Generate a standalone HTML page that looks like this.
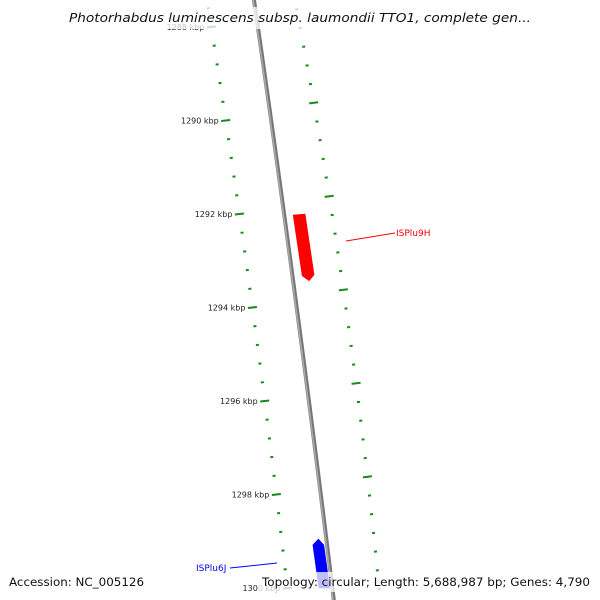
<!DOCTYPE html>
<html><head><meta charset="utf-8"><style>
html,body{margin:0;padding:0;background:#fff;}
svg{display:block;font-family:"DejaVu Sans","Liberation Sans",sans-serif;}
</style></head><body>
<svg id="c" width="600" height="600" viewBox="0 0 600 600"></svg>
<script>
const majorKbp = [1288,1290,1292,1294,1296,1298,1300];
const minorStepKbp = 0.4;
const innerMajorKbp = [1289.6,1291.6,1293.6,1295.6,1297.6];
const featureNames = ["ISPlu9H","ISPlu6J"];
const featureStart = [1292.0,1298.95];
const featureEnd = [1293.43,1300.0];
const featureColors = ["#ff0000","#0000ff"];
const featureStrand = [1,-1];

const NS="http://www.w3.org/2000/svg";
const svg=document.getElementById('c');
function yOf(k){return 27+(k-1288)*46.75;}
function leftX(y){return 207+0.16*y-0.00004*y*y;}
function backX(y){return 254+0.145*y-0.00002*y*y;}
function rightX(y){return 295+0.19*y-0.00008*y*y;}
function mk(t,a,p){const e=document.createElementNS(NS,t);for(const k in a)e.setAttribute(k,a[k]);(p||svg).appendChild(e);return e;}

let pts=[];for(let y=-5;y<=605;y+=5)pts.push(backX(y)+','+y);
let bb=mk('polyline',{points:pts.join(' '),fill:'none',stroke:'#777',"stroke-width":4});


let bb2=mk('polyline',{points:pts.join(' '),fill:'none',stroke:'#aaa',"stroke-width":1.5,transform:'translate(-0.8,0)'});



function tick(x,y,len,name){
  const l=mk('line',{x1:x-len/2,y1:y+len/2*0.12,x2:x+len/2,y2:y-len/2*0.12,stroke:'#1a8a1a',"stroke-width":2});
  
  
}
for(let k=1287.6;k<=1300.01;k+=minorStepKbp){
  const y=yOf(k);const isMaj=majorKbp.some(m=>Math.abs(m-k)<0.01);
  tick(leftX(y),y,isMaj?9:3,isMaj?'major-tick':'minor-tick');
}
majorKbp.forEach(k=>{
  const y=yOf(k);
  const t=mk('text',{x:leftX(y)-7,y:y+3,"text-anchor":'end',"font-size":8,fill:'#222'});
  t.textContent=k+' kbp';
  
  
});
for(let k=1287.2;k<=1300.6;k+=minorStepKbp){
  const y=yOf(k)+1;const isMaj=innerMajorKbp.some(m=>Math.abs(m-k)<0.01);
  tick(rightX(y),y,isMaj?9:3,isMaj?'inner-major-tick':'inner-minor-tick');
}
featureNames.forEach((n,i)=>{
  const y1=yOf(featureStart[i]),y2=yOf(featureEnd[i]);
  const off=featureStrand[i]>0?15:-8;
  const cx1=backX(y1)+off, cx2=backX(y2)+off;
  const w=featureStrand[i]>0?12:11;
  let p;
  if(featureStrand[i]>0){p=[[cx1-w/2,y1+1],[cx1+w/2,y1],[cx2+w/2,y2-6],[cx2+1,y2],[cx2-w/2,y2-5]];}
  else{p=[[cx1-w/2,y1+6],[cx1,y1],[cx1+w/2,y1+6],[cx2+w/2,y2],[cx2-w/2,y2]];}
  const g=mk('polygon',{points:p.map(q=>q.join(',')).join(' '),fill:featureColors[i],stroke:featureColors[i],"stroke-width":0.5});
  
  
});
const l1=mk('line',{x1:346,y1:241,x2:395,y2:233,stroke:'#f00'});


const t1=mk('text',{x:396,y:236,"font-size":9,fill:'#f00'});t1.textContent='ISPlu9H';


const l2=mk('line',{x1:230,y1:568,x2:277,y2:563,stroke:'#00f'});


const t2=mk('text',{x:196,y:571,"font-size":9,fill:'#00f'});t2.textContent='ISPlu6J';


</script>
<svg width="600" height="600" viewBox="0 0 600 600" style="position:absolute;left:0;top:0;font-family:'DejaVu Sans','Liberation Sans',sans-serif">
<rect x="64" y="7" width="472" height="22" fill="#fff" fill-opacity="0.75"/>
<text x="300" y="22" text-anchor="middle" font-size="12.5" font-style="italic" fill="#111" textLength="462" lengthAdjust="spacingAndGlyphs">Photorhabdus luminescens subsp. laumondii TTO1, complete gen...</text>
<rect x="6" y="572" width="142" height="20" fill="#fff" fill-opacity="0.75"/>
<text x="9" y="586" font-size="11.5" fill="#111" textLength="135" lengthAdjust="spacingAndGlyphs">Accession: NC_005126</text>
<rect x="258" y="572" width="336" height="20" fill="#fff" fill-opacity="0.75"/>
<text x="590" y="586" text-anchor="end" font-size="11.5" fill="#111" textLength="328" lengthAdjust="spacingAndGlyphs">Topology: circular; Length: 5,688,987 bp; Genes: 4,790</text>
</svg>
</body></html>
